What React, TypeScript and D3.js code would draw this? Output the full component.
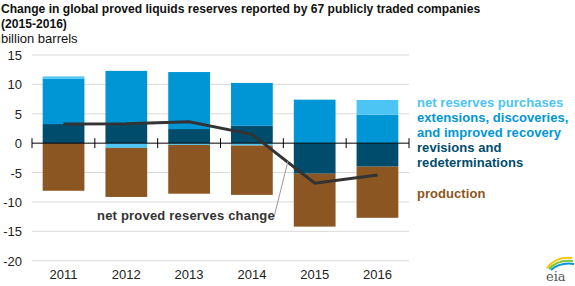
import React, { useEffect, useRef } from 'react'
import * as d3 from 'd3'

// data (billion barrels)
const years = ['2011', '2012', '2013', '2014', '2015', '2016']
const purchases = [0.4, -0.8, -0.3, -0.4, 0, 2.5]
const extensions = [7.7, 9.0, 9.7, 7.3, 7.4, 4.85]
const revisions = [3.25, 3.3, 2.4, 2.95, -5.2, -4.0]
const production = [-8.1, -8.35, -8.3, -8.4, -9.0, -8.7]
const netChange = [3.25, 3.3, 3.65, 1.5, -6.8, -5.4]
const yTicks = [15, 10, 5, 0, -5, -10, -15, -20]

const colors = {
  purchases: '#4cc4f4',
  extensions: '#0096d6',
  revisions: '#004c6c',
  production: '#8b5621',
}

export default function App() {
  const ref = useRef<SVGSVGElement>(null)

  useEffect(() => {
    const svg = d3.select(ref.current)
    svg.selectAll('*').remove()

    const left = 32
    const right = 409
    const x = d3.scaleBand().domain(years).range([left, right]).paddingInner(0.335).paddingOuter(0.17)
    const y = d3.scaleLinear().domain([-20, 15]).range([260.7, 55])

    // titel + eenheid
    const font = 'Liberation Sans, Arial, sans-serif'
    const title = svg.append('g').attr('font-family', font).attr('fill', '#111')
    title.append('text').attr('x', 1).attr('y', 13).attr('font-weight', 'bold').attr('font-size', 12.1)
      .text('Change in global proved liquids reserves reported by 67 publicly traded companies')
    title.append('text').attr('x', 1).attr('y', 28).attr('font-weight', 'bold').attr('font-size', 12.1).text('(2015-2016)')
    title.append('text').attr('x', 1).attr('y', 43).attr('font-size', 13).text('billion barrels')

    // gridlines + y labels
    const grid = svg.append('g')
    grid.selectAll('line').data(yTicks.filter(d => d !== 0)).join('line')
      .attr('x1', left).attr('x2', right)
      .attr('y1', d => y(d)).attr('y2', d => y(d))
      .attr('stroke', '#d9d9d9').attr('stroke-width', 1)
    grid.selectAll('text').data(yTicks).join('text')
      .attr('x', 22).attr('y', d => y(d) + 5)
      .attr('text-anchor', 'end')
      .attr('font-family', font).attr('font-size', 13).attr('fill', '#222')
      .text(d => d)

    // gestapelde bars: positieve en negatieve stukken apart
    const series = [
      { key: 'revisions', values: revisions },
      { key: 'extensions', values: extensions },
      { key: 'purchases', values: purchases },
      { key: 'production', values: production },
    ]
    const bars = svg.append('g')
    years.forEach((yr, i) => {
      let pos = 0
      let neg = 0
      series.forEach(s => {
        const v = s.values[i]
        if (v === 0) return
        let y0: number, y1: number
        if (v > 0) { y0 = pos; y1 = pos + v; pos = y1 } else { y0 = neg; y1 = neg + v; neg = y1 }
        bars.append('rect')
          .attr('x', x(yr)!)
          .attr('width', x.bandwidth())
          .attr('y', y(Math.max(y0, y1)))
          .attr('height', Math.abs(y(y0) - y(y1)))
          .attr('fill', (colors as any)[s.key])
      })
    })

    // x as met tickmarks
    const axis = svg.append('g').attr('transform', `translate(0,${y(0)})`)
    axis.append('line').attr('x1', left).attr('x2', right).attr('stroke', '#000').attr('stroke-width', 1)
    const tickX = d3.range(years.length + 1).map(i => left + i * (right - left) / years.length)
    axis.selectAll('.tick').data(tickX).join('line')
      .attr('x1', d => d).attr('x2', d => d).attr('y1', -5).attr('y2', 5)
      .attr('stroke', '#000')
    svg.append('g').selectAll('text').data(years).join('text')
      .attr('x', (d, i) => (tickX[i] + tickX[i + 1]) / 2)
      .attr('y', 279)
      .attr('text-anchor', 'middle')
      .attr('font-family', font).attr('font-size', 13).attr('fill', '#222')
      .text(d => d)

    // net change lijn
    const cx = (i: number) => (tickX[i] + tickX[i + 1]) / 2
    const line = d3.line<number>().x((d, i) => cx(i)).y(d => y(d))
    svg.append('path').datum(netChange).attr('d', line)
      .attr('fill', 'none').attr('stroke', '#333').attr('stroke-width', 3)

    // annotatie
    svg.append('line').attr('x1', 274).attr('y1', 217).attr('x2', 288).attr('y2', 161)
      .attr('stroke', '#999').attr('stroke-width', 1)
    svg.append('text').attr('x', 97).attr('y', 220)
      .attr('font-family', font).attr('font-size', 13).attr('font-weight', 'bold').attr('fill', '#333')
      .attr('letter-spacing', 0.2)
      .text('net proved reserves change')

    // legenda
    const legend = [
      { t: 'net reserves purchases', c: colors.purchases, y: 107 },
      { t: 'extensions, discoveries,', c: colors.extensions, y: 122 },
      { t: 'and improved recovery', c: colors.extensions, y: 137 },
      { t: 'revisions and', c: colors.revisions, y: 152 },
      { t: 'redeterminations', c: colors.revisions, y: 167 },
      { t: 'production', c: colors.production, y: 198 },
    ]
    svg.append('g').selectAll('text').data(legend).join('text')
      .attr('x', 417).attr('y', d => d.y)
      .attr('font-family', font).attr('font-size', 13).attr('font-weight', 'bold')
      .attr('letter-spacing', 0.05)
      .attr('fill', d => d.c)
      .text(d => d.t)

    // eia logo (eenvoudig)
    const logo = svg.append('g')
    logo.append('path').attr('d', 'M547,268 Q556,256 572,258').attr('fill', 'none').attr('stroke', '#f2c500').attr('stroke-width', 2)
    logo.append('path').attr('d', 'M549,269 Q558,259 573,261').attr('fill', 'none').attr('stroke', '#7cc242').attr('stroke-width', 2)
    logo.append('path').attr('d', 'M551,270 Q560,262 574,264').attr('fill', 'none').attr('stroke', '#0096d6').attr('stroke-width', 2)
    logo.append('text').attr('x', 546).attr('y', 281)
      .attr('font-family', 'DejaVu Serif, serif').attr('font-size', 13).attr('fill', '#555')
      .text('eia')
  }, [])

  return (
    <svg ref={ref} width={575} height={286}
      style={{ position: 'absolute', left: 0, top: 0, background: '#fff' }} />
  )
}
